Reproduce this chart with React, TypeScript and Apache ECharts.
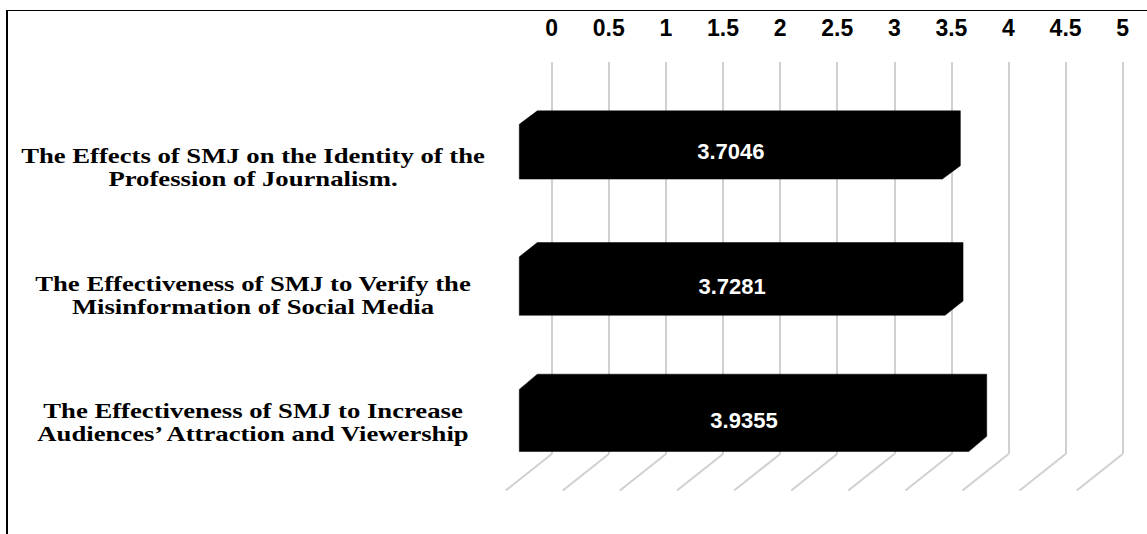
import React, { useEffect, useRef } from "react";
import * as echarts from "echarts";

const categories = [
  "The Effects of SMJ on the Identity of the\nProfession of Journalism.",
  "The Effectiveness of SMJ to Verify the\nMisinformation of Social Media",
  "The Effectiveness of SMJ to Increase\nAudiences’ Attraction and Viewership",
];
const values = [3.7046, 3.7281, 3.9355];
const tickValues = [0, 0.5, 1, 1.5, 2, 2.5, 3, 3.5, 4, 4.5, 5];
const tickLabels = ["0", "0.5", "1", "1.5", "2", "2.5", "3", "3.5", "4", "4.5", "5"];

const SANS = '"Liberation Sans", Arial, sans-serif';
const SERIF = '"Liberation Serif", "Times New Roman", serif';

export default function App() {
  const ref = useRef<HTMLDivElement>(null);
  useEffect(() => {
    if (!ref.current) return;
    const chart = echarts.init(ref.current, undefined, { renderer: "svg" });
    const wallLeft = 551.7;
    const wallWidth = 571;
    const gridColor = "#d0d0d0";
    const labelCenterX = 253;

    const option: any = {
      animation: false,
      backgroundColor: "#ffffff",
      grid: [
        { left: wallLeft, top: 62, width: wallWidth, height: 392 },
        { left: wallLeft, top: 71.5, width: wallWidth, height: 400.5 },
        { left: wallLeft, top: 104, width: wallWidth, height: 382.5 },
      ],
      xAxis: [
        {
          gridIndex: 0,
          type: "value",
          min: 0,
          max: 5,
          interval: 0.5,
          position: "top",
          axisLine: { show: false },
          axisTick: { show: false },
          splitLine: { show: true, lineStyle: { color: gridColor, width: 2 } },
          axisLabel: {
            formatter: (v: number) => {
              const i = tickValues.findIndex((t) => Math.abs(t - v) < 1e-9);
              return i >= 0 ? tickLabels[i] : "";
            },
            fontFamily: SANS,
            fontWeight: "bold",
            fontSize: 23,
            color: "#000",
            margin: 34,
            verticalAlign: "middle",
          },
        },
        { gridIndex: 1, type: "value", min: 0, max: 5, show: false },
        { gridIndex: 2, type: "value", min: 0, max: 5, show: false },
      ],
      yAxis: [
        { gridIndex: 0, type: "value", min: 0, max: 1, show: false },
        { gridIndex: 1, type: "category", data: categories, inverse: true, show: false },
        { gridIndex: 2, type: "category", data: categories, inverse: true, show: false },
      ],
      series: [
        {
          type: "custom",
          xAxisIndex: 0,
          yAxisIndex: 0,
          data: tickValues.map((v) => [v, 0]),
          z: 1,
          renderItem: (params: any, api: any) => {
            const p = api.coord([api.value(0), 0]);
            return {
              type: "line",
              shape: { x1: p[0], y1: p[1], x2: p[0] - 46, y2: p[1] + 36.5 },
              style: { stroke: gridColor, lineWidth: 2 },
            };
          },
        },
        {
          type: "custom",
          xAxisIndex: 1,
          yAxisIndex: 1,
          data: values.map((v, i) => [v, i]),
          z: 5,
          renderItem: (params: any, api: any) => {
            const v = api.value(0);
            const c = api.value(1);
            const p0 = api.coord([0, c]);
            const pv = api.coord([v, c]);
            // slight perspective: lower bars appear a little taller
            const s = 1 + (p0[1] - 138.3) * 0.0005;
            const h = 54.8 * s;
            const dx = 18;
            const dy = 13.4 * s;
            const back = 14.4;
            const x0b = p0[0] - back;
            const x0f = x0b - dx;
            const xvb = pv[0] - back;
            const xvf = xvb - dx;
            const yt = p0[1] - h / 2;
            const points = [
              [x0f, yt + dy],
              [x0b, yt],
              [xvb, yt],
              [xvb, yt + h],
              [xvf, yt + h + dy],
              [x0f, yt + h + dy],
            ];
            return {
              type: "group",
              children: [
                {
                  type: "polygon",
                  shape: { points },
                  style: { fill: "#000000", stroke: "#000000", lineWidth: 0.5 },
                },
                {
                  type: "text",
                  style: {
                    text: String(values[params.dataIndex]),
                    x: (x0f + xvf) / 2,
                    y: yt + dy + h / 2,
                    align: "center",
                    verticalAlign: "middle",
                    fill: "#ffffff",
                    fontFamily: SANS,
                    fontWeight: "bold",
                    fontSize: 22,
                  },
                },
              ],
            };
          },
        },
        {
          type: "custom",
          xAxisIndex: 2,
          yAxisIndex: 2,
          data: categories.map((_, i) => [0, i]),
          z: 3,
          renderItem: (params: any, api: any) => {
            const p = api.coord([0, api.value(1)]);
            return {
              type: "text",
              x: p[0] - (wallLeft - labelCenterX),
              y: p[1],
              scaleX: 1.27,
              style: {
                text: categories[params.dataIndex],
                x: 0,
                y: 0,
                align: "center",
                verticalAlign: "middle",
                fill: "#000",
                fontFamily: SERIF,
                fontWeight: "bold",
                fontSize: 21,
                lineHeight: 23,
              },
            };
          },
        },
      ],
      graphic: [
        {
          type: "line",
          shape: { x1: 6, y1: 10.5, x2: 1147, y2: 10.5 },
          style: { stroke: "#000", lineWidth: 1.2 },
        },
        {
          type: "line",
          shape: { x1: 7, y1: 10, x2: 7, y2: 534 },
          style: { stroke: "#000", lineWidth: 2 },
        },
      ],
    };
    chart.setOption(option);
    return () => chart.dispose();
  }, []);
  return (
    <div
      ref={ref}
      style={{ position: "absolute", left: 0, top: 0, width: 1147, height: 534 }}
    />
  );
}
